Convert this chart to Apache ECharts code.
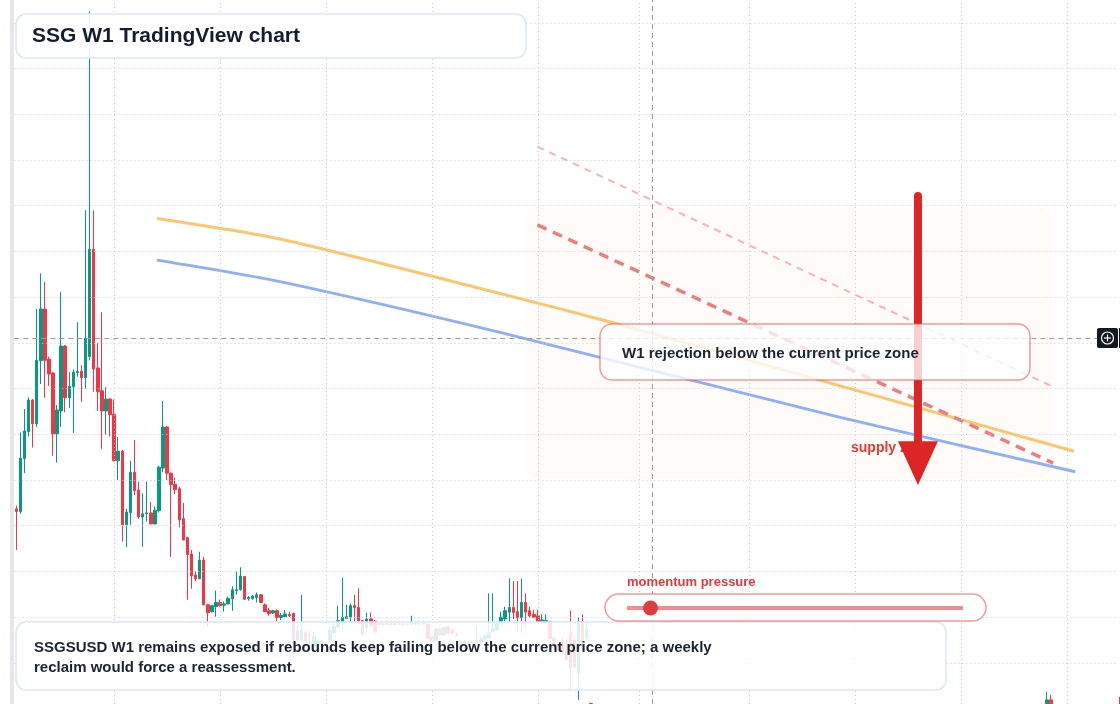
<!DOCTYPE html>
<html>
<head>
<meta charset="utf-8">
<script src="https://cdn.jsdelivr.net/npm/echarts@6/dist/echarts.min.js"></script>
<style>
html,body{margin:0;padding:0;background:#ffffff;}
#chart{width:1120px;height:704px;}
</style>
</head>
<body>
<div id="chart"></div>
<script>
// ---------- DATA (weekly SSGSUSD candles, price units of the hidden scale) ----------
// visible segment A starts at bar 0
const segAStart = 0;
const openA = [
53.7,53.1,64.7,70.6,77.5,72.3,86.1,97.4,86.4,83.4,
70.1,75.1,89.3,78.0,80.4,83.5,83.8,82.4,87.0,110.5,
84.5,79.5,75.1,77.7,74.4,64.2,66.3,50.2,52.9,61.7,
57.8,51.9,52.6,52.8,50.4,53.3,62.6,71.6,61.5,59.1,
58.1,51.5,47.4,43.8,39.2,38.4,42.5,32.7,31.2,32.3,
33.2,32.6,32.9,34.0,35.8,36.0,38.9,34.0,34.1,34.3,
34.9,32.7,31.4,30.9,31.4,29.9,30.1,30.6,30.8,25.0,
25.0,26.6,26.1,23.5,23.9,24.6,23.9,24.9,26.6,27.9,
29.0,29.7,30.0,32.5,32.1,29.2,27.7,29.6,29.1,28.6,
28.4,28.5,28.5,28.4,28.6,28.5,28.4,28.4,28.7,28.5,
28.5,28.5,25.7,24.7,27.4,26.1,27.9,27.2,26.3,24.3,
24.8,24.2,24.4,24.3,24.4,25.2,25.4,26.8,27.2,28.7,
29.6,31.1,32.1,31.2,29.9,33.2,31.4,30.6,30.3,29.0,
29.0,29.0,25.4,23.9,23.9,22.8,26.8,25.0,17.7,29.0,
25.4,11.1];
const closeA = [
53.1,64.8,70.7,77.5,72.3,86.2,97.4,86.2,83.2,70.1,
75.3,89.3,78.0,80.5,83.6,83.8,82.4,91.0,110.5,84.3,
79.3,75.1,77.7,74.3,64.2,66.3,50.2,53.0,61.7,57.7,
51.9,52.6,52.8,50.4,53.4,62.8,71.6,61.5,59.0,57.9,
51.3,46.9,43.7,39.0,38.4,42.5,32.7,31.0,32.5,33.2,
32.5,32.9,34.1,36.0,36.0,39.0,33.9,34.3,34.6,34.9,
33.2,31.2,30.8,31.4,29.9,30.4,30.7,30.3,25.2,27.2,
27.2,24.8,26.0,25.7,24.8,23.9,24.4,27.1,27.9,29.2,
30.0,30.1,32.5,32.1,29.2,26.3,29.6,28.1,26.8,28.4,
28.5,28.5,28.4,28.6,28.5,28.4,28.5,28.7,28.5,28.5,
28.6,25.4,24.6,27.4,26.1,27.7,26.6,26.5,26.1,24.9,
24.2,24.6,24.2,24.9,25.2,25.9,26.6,27.4,28.7,30.0,
31.4,32.1,31.0,29.9,33.2,31.1,30.3,30.0,29.0,29.4,
29.3,25.4,24.2,22.8,22.4,20.7,19.1,19.2,29.0,23.9,
27.2,7.5];
const highA = [
54.4,70.4,75.5,78.1,77.7,97.4,105.2,103.3,87.0,83.6,
76.4,101.1,89.5,83.6,84.2,94.5,85.1,119.0,162.5,119.0,
89.9,96.7,80.3,77.9,77.6,69.4,66.6,53.7,64.2,68.7,
59.6,57.1,59.6,55.2,54.2,63.1,77.3,71.8,61.6,60.5,
58.5,55.0,47.6,44.7,40.0,44.3,43.2,32.9,32.7,35.8,
33.8,33.4,34.5,36.8,40.0,40.9,39.0,34.6,34.9,35.4,
35.0,33.0,32.0,31.6,31.7,30.9,31.6,31.2,31.0,28.1,
34.9,27.0,27.2,26.8,25.0,24.8,24.6,27.7,28.5,32.5,
38.6,32.7,33.0,34.9,36.3,29.4,31.0,31.0,29.4,28.8,
28.7,28.8,28.7,28.8,28.7,28.7,28.8,30.3,28.8,28.7,
28.8,28.6,25.9,27.7,27.7,27.9,28.1,27.4,26.6,25.0,
25.0,24.8,24.8,28.3,25.7,26.3,35.2,35.2,29.0,31.2,
32.3,38.5,37.9,37.9,38.4,35.2,32.3,31.6,31.6,30.6,
30.6,29.1,25.7,24.2,25.5,25.5,31.4,25.5,30.0,30.6,
29.0,11.3];
const lowA = [
44.7,52.6,61.5,69.5,67.1,71.6,81.0,78.0,80.6,65.3,
63.8,71.6,74.8,75.8,70.3,82.6,77.1,80.0,86.2,79.3,
75.1,66.8,69.9,69.5,64.1,60.0,46.5,45.3,50.2,56.7,
51.5,45.4,50.9,50.3,50.3,52.9,61.7,60.0,43.2,56.9,
49.6,46.8,33.8,36.2,37.9,38.3,32.6,27.9,31.0,30.1,
32.3,31.2,32.8,31.4,34.9,35.8,33.8,33.6,33.8,33.2,
33.1,31.1,30.3,30.7,29.0,29.4,30.0,30.0,24.8,24.6,
24.8,24.4,23.9,23.3,23.7,23.7,23.7,24.6,26.3,27.7,
27.6,29.6,29.0,29.0,28.9,25.9,26.6,27.7,26.6,28.2,
28.2,28.3,28.2,28.3,28.3,28.2,28.3,28.3,28.3,28.2,
28.3,25.2,24.4,24.6,25.9,25.9,26.3,26.3,25.7,23.9,
23.7,23.7,23.5,24.2,24.2,25.0,25.2,26.7,27.0,28.6,
29.0,28.7,29.6,26.6,26.6,27.6,29.9,29.8,28.9,28.9,
28.8,25.2,23.9,22.6,21.7,20.2,14.1,18.9,11.9,22.8,
25.0,6.4];
// visible segment B (last two weekly bars, mostly below the frame)
const segBStart = 253;
const openB  = [9.3, 11.9];
const closeB = [11.9, 9.3];
const highB  = [13.7, 13.0];
const lowB   = [8.4, 8.6];

const barCount = 271;                 // slots on the time axis (incl. right offset)
const priceGridLevels = [20,30,40,50,60,70,80,90,100,110,120,130,140,150,160];
const timeGridBars = [24,50,76,102,128,153,180,206,232,258];
const crosshairBar = 156;
const crosshairPrice = 91.1;

// annotation geometry in (bar, price) units
const orangeTrend = [[34.5,117.2],[64.7,112.7],[118.7,100.8],[146.9,94.3],[202.2,80.6],[259.6,66.3]];
const blueTrend   = [[34.5,108.1],[64.7,103.4],[118.7,92.3],[202.2,73.7],[259.9,61.8]];
const rejectDash      = [[127.9,115.8],[254.5,63.7]];
const rejectDashLight = [[127.9,132.9],[254.0,80.6]];
const zoneCorners = [[124.9,119.5],[254.2,60.4]];
const arrowBar = 221.3, arrowFrom = 122.1, arrowHeadBase = 68.5, arrowTip = 58.9, arrowHalf = 4.9;
const momentumLevel = 0.07;

const titleText = 'SSG W1 TradingView chart';
const noteText = 'W1 rejection below the current price zone';
const zoneText = 'supply zone';
const momentumText = 'momentum pressure';
const captionText = 'SSGSUSD W1 remains exposed if rebounds keep failing below the current price zone; a weekly\nreclaim would force a reassessment.';

// ---------- BUILD ----------
const categories = [];
for (let i = 0; i < barCount; i++) categories.push('B' + i);
const candles = categories.map(() => ['-','-','-','-']);
openA.forEach((o, k) => { candles[segAStart + k] = [o, closeA[k], lowA[k], highA[k]]; });
openB.forEach((o, k) => { candles[segBStart + k] = [o, closeB[k], lowB[k], highB[k]]; });

const FONT = '"Liberation Sans", Arial, sans-serif';
const chart = echarts.init(document.getElementById('chart'), null, {renderer: 'canvas'});

const gridMarks = priceGridLevels.map(v => ({yAxis: v}))
  .concat(timeGridBars.map(b => ({xAxis: categories[b]})));

chart.setOption({
  animation: false,
  backgroundColor: '#ffffff',
  grid: {left: 14.3, right: 1.6, top: 0, bottom: 0, containLabel: false},
  xAxis: [
    {type: 'category', data: categories, boundaryGap: true, show: false},
    {type: 'value', min: -0.5, max: barCount - 0.5, show: false}
  ],
  yAxis: [{type: 'value', min: 11, max: 165, show: false, splitLine: {show: false}}],
  series: [
    {
      type: 'line', data: [], xAxisIndex: 0, yAxisIndex: 0, z: 1, silent: true,
      markLine: {
        silent: true, symbol: ['none','none'], label: {show: false}, animation: false,
        lineStyle: {color: '#c9c9c9', type: [1, 3], width: 1},
        data: gridMarks
      }
    },
    {
      type: 'candlestick', data: candles, xAxisIndex: 0, yAxisIndex: 0, z: 2,
      clip: false, barWidth: 3,
      itemStyle: {color: '#089981', color0: '#F23645', borderColor: '#089981', borderColor0: '#F23645', borderWidth: 1}
    },
    {
      type: 'line', data: [], xAxisIndex: 0, yAxisIndex: 0, z: 3, silent: true,
      markLine: {
        silent: true, symbol: ['none','none'], label: {show: false}, animation: false,
        lineStyle: {color: '#9a9a9a', type: [5, 4], width: 1},
        data: [{yAxis: crosshairPrice}, {xAxis: categories[crosshairBar]}]
      }
    },
    {type: 'line', data: rejectDashLight, xAxisIndex: 1, yAxisIndex: 0, z: 4, showSymbol: false, silent: true,
      lineStyle: {color: '#f6b4b4', width: 2, type: [7, 6]}},
    {type: 'line', data: orangeTrend, xAxisIndex: 1, yAxisIndex: 0, z: 4, showSymbol: false, silent: true, smooth: 0.25,
      lineStyle: {color: '#fac66f', width: 3}},
    {type: 'line', data: blueTrend, xAxisIndex: 1, yAxisIndex: 0, z: 4, showSymbol: false, silent: true, smooth: 0.25,
      lineStyle: {color: '#90aff6', width: 3}},
    {type: 'line', data: rejectDash, xAxisIndex: 1, yAxisIndex: 0, z: 4, showSymbol: false, silent: true,
      lineStyle: {color: '#eb7f7f', width: 3.5, type: [10, 7]}}
  ]
});

const px = (b, v) => chart.convertToPixel({xAxisIndex: 1, yAxisIndex: 0}, [b, v]);
const z0 = px(zoneCorners[0][0], zoneCorners[0][1]);
const z1 = px(zoneCorners[1][0], zoneCorners[1][1]);
const aTop = px(arrowBar, arrowFrom);
const aBase = px(arrowBar, arrowHeadBase);
const aTip = px(arrowBar, arrowTip);
const aL = px(arrowBar - arrowHalf, arrowHeadBase);
const aR = px(arrowBar + arrowHalf, arrowHeadBase);
const trackX0 = 627, trackX1 = 963;

chart.setOption({
  graphic: [
    {type: 'rect', z: 0, silent: true, shape: {x: 10, y: 0, width: 4, height: 704}, style: {fill: '#e6e6e6'}},
    {type: 'rect', z: 1, silent: true,
      shape: {x: z0[0], y: z0[1], width: z1[0] - z0[0], height: z1[1] - z0[1], r: 14},
      style: {fill: 'rgba(250,226,210,0.14)'}},
    {type: 'text', z: 20, silent: true, style: {text: zoneText, x: 851, y: 448, verticalAlign: 'middle',
      font: 'bold 14px ' + FONT, fill: '#e53935'}},
    {type: 'line', z: 21, silent: true, shape: {x1: aTop[0], y1: aTop[1], x2: aBase[0], y2: aBase[1] + 4},
      style: {stroke: '#dc2626', lineWidth: 8, lineCap: 'round'}},
    {type: 'polygon', z: 21, silent: true, shape: {points: [aL, aR, aTip]}, style: {fill: '#dc2626'}},
    {type: 'rect', z: 22, silent: true, shape: {x: 600, y: 324, width: 430, height: 56, r: 12},
      style: {fill: 'rgba(255,255,255,0.78)', stroke: 'rgba(232,90,90,0.6)', lineWidth: 1.5}},
    {type: 'text', z: 23, silent: true, style: {text: noteText, x: 622, y: 353.5, verticalAlign: 'middle',
      font: 'bold 15px ' + FONT, fill: '#1b2433'}},
    {type: 'rect', z: 30, silent: true, shape: {x: 16, y: 14, width: 510, height: 44, r: 10},
      style: {fill: 'rgba(255,255,255,0.92)', stroke: '#d9e6fb', lineWidth: 1.5}},
    {type: 'text', z: 31, silent: true, style: {text: titleText, x: 32, y: 36, verticalAlign: 'middle',
      font: 'bold 21px ' + FONT, fill: '#141d2f'}},
    {type: 'rect', z: 30, silent: true, shape: {x: 16, y: 622, width: 930, height: 68, r: 10},
      style: {fill: 'rgba(255,255,255,0.86)', stroke: '#d9e6fb', lineWidth: 1.5}},
    {type: 'text', z: 31, silent: true, style: {text: captionText, x: 34, y: 638, verticalAlign: 'top',
      lineHeight: 20, font: 'bold 15px ' + FONT, fill: '#1b2433'}},
    {type: 'text', z: 31, silent: true, style: {text: momentumText, x: 627, y: 582, verticalAlign: 'middle',
      font: 'bold 13px ' + FONT, fill: '#e0393e'}},
    {type: 'rect', z: 30, silent: true, shape: {x: 605, y: 594, width: 381, height: 27, r: 13.5},
      style: {fill: 'rgba(255,255,255,0.95)', stroke: 'rgba(232,90,90,0.6)', lineWidth: 1.5}},
    {type: 'line', z: 31, silent: true, shape: {x1: trackX0, y1: 608, x2: trackX1, y2: 608},
      style: {stroke: '#ee8e8e', lineWidth: 4}},
    {type: 'circle', z: 32, silent: true, shape: {cx: trackX0 + momentumLevel * (trackX1 - trackX0), cy: 608, r: 7.5},
      style: {fill: '#e23b3b'}},
    {type: 'rect', z: 40, silent: true, shape: {x: 1097, y: 328, width: 21, height: 20, r: 2}, style: {fill: '#131722'}},
    {type: 'circle', z: 41, silent: true, shape: {cx: 1107.5, cy: 338, r: 6}, style: {fill: 'none', stroke: '#ffffff', lineWidth: 1.2}},
    {type: 'line', z: 41, silent: true, shape: {x1: 1104, y1: 338, x2: 1111, y2: 338}, style: {stroke: '#ffffff', lineWidth: 1.2}},
    {type: 'line', z: 41, silent: true, shape: {x1: 1107.5, y1: 334.5, x2: 1107.5, y2: 341.5}, style: {stroke: '#ffffff', lineWidth: 1.2}},
    {type: 'rect', z: 40, silent: true, shape: {x: 1119, y: 328, width: 1, height: 20}, style: {fill: '#131722'}},
    {type: 'rect', z: 40, silent: true, shape: {x: 1119, y: 697, width: 1, height: 7}, style: {fill: '#F23645'}}
  ]
});
</script>
</body>
</html>
